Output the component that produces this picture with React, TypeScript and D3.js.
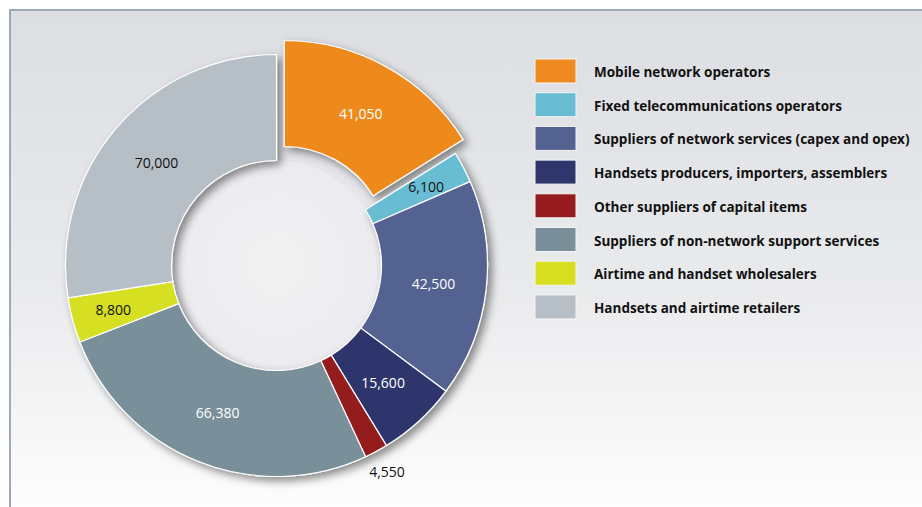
import React from "react";
import * as d3 from "d3";

const categories = [
  "Mobile network operators",
  "Fixed telecommunications operators",
  "Suppliers of network services (capex and opex)",
  "Handsets producers, importers, assemblers",
  "Other suppliers of capital items",
  "Suppliers of non-network support services",
  "Airtime and handset wholesalers",
  "Handsets and airtime retailers",
];
const values = [41050, 6100, 42500, 15600, 4550, 66380, 8800, 70000];
const valueLabels = ["41,050", "6,100", "42,500", "15,600", "4,550", "66,380", "8,800", "70,000"];
const colors = ["#ee8a1f", "#68bdd3", "#536290", "#2e366c", "#951b1f", "#798f9a", "#d7df20", "#b6bec6"];
const labelColors = ["#ffffff", "#111111", "#ffffff", "#ffffff", "#111111", "#ffffff", "#111111", "#111111"];
const explodedIndex = 0;

const W = 922;
const H = 507;
const cx = 276.5;
const cy = 265.5;
const outerR = 211;
const innerR = 105;
const explode = 16;

export default function App() {
  const data = categories.map((c, i) => ({ c, v: values[i], i }));
  const pie = d3.pie<any>().value((d) => d.v).sort(null).startAngle(0).endAngle(2 * Math.PI);
  const arcs = pie(data);
  const arc = d3.arc<any>().innerRadius(innerR).outerRadius(outerR);
  const font = "'Open Sans', 'Noto Sans', sans-serif";

  return (
    <svg width={W} height={H} style={{ position: "absolute", left: 0, top: 0, display: "block" }}>
      <defs>
        <linearGradient id="bg" x1="0" y1="0" x2="0" y2="1">
          <stop offset="0%" stopColor="#dcdee2" />
          <stop offset="55%" stopColor="#e9eaec" />
          <stop offset="100%" stopColor="#fdfdfd" />
        </linearGradient>
        <radialGradient id="hole" cx="0.5" cy="0.5" r="0.5">
          <stop offset="0%" stopColor="#f1f1f2" />
          <stop offset="100%" stopColor="#ececf0" />
        </radialGradient>
        <filter id="shadow" x="-20%" y="-20%" width="140%" height="140%">
          <feDropShadow dx="4" dy="4" stdDeviation="4" floodColor="#000" floodOpacity="0.45" />
        </filter>
      </defs>
      <rect x={0} y={0} width={W} height={H} fill="#ffffff" />
      <rect x={10} y={10} width={W - 10} height={H - 10} fill="url(#bg)" />
      <line x1={10} y1={10} x2={W} y2={10} stroke="#9daab5" strokeWidth={2} />
      <line x1={10} y1={9} x2={10} y2={H} stroke="#9daab5" strokeWidth={2} />

      <circle cx={cx} cy={cy} r={innerR} fill="url(#hole)" />

      <g transform={`translate(${cx},${cy})`} filter="url(#shadow)">
        {arcs.map((a, i) => {
          const mid = (a.startAngle + a.endAngle) / 2;
          const off = i === explodedIndex ? explode : 0;
          const tx = Math.sin(mid) * off;
          const ty = -Math.cos(mid) * off;
          return (
            <path
              key={i}
              d={arc(a) as string}
              transform={`translate(${tx},${ty})`}
              fill={colors[i]}
              stroke="#ffffff"
              strokeWidth={1.2}
              strokeLinejoin="miter"
            />
          );
        })}
      </g>

      <g transform={`translate(${cx},${cy})`}>
        {arcs.map((a, i) => {
          const mid = (a.startAngle + a.endAngle) / 2;
          const off = i === explodedIndex ? explode : 0;
          const share = a.data.v / d3.sum(values);
          let r = (innerR + outerR) / 2;
          if (share < 0.02) r = outerR + 23;
          else if (share < 0.04) r = r + 11;
          const x = Math.sin(mid) * (r + off);
          const y = -Math.cos(mid) * (r + off);
          const col = share < 0.02 ? "#111111" : labelColors[i];
          return (
            <text
              key={i}
              x={x}
              y={y}
              textAnchor="middle"
              dominantBaseline="central"
              fontFamily={font}
              fontSize={14}
              fill={col}
            >
              {valueLabels[i]}
            </text>
          );
        })}
      </g>

      <g>
        {categories.map((c, i) => {
          const y = 59 + i * 33.7;
          return (
            <g key={i}>
              <rect x={535} y={y} width={41} height={24} fill={colors[i]} stroke="#f4f4f4" strokeWidth={1} />
              <text
                transform={`translate(594,${y + 18}) scale(0.966,1)`}
                fontFamily={font}
                fontWeight={700}
                fontSize={14}
                fill="#111111"
              >
                {c}
              </text>
            </g>
          );
        })}
      </g>
    </svg>
  );
}
